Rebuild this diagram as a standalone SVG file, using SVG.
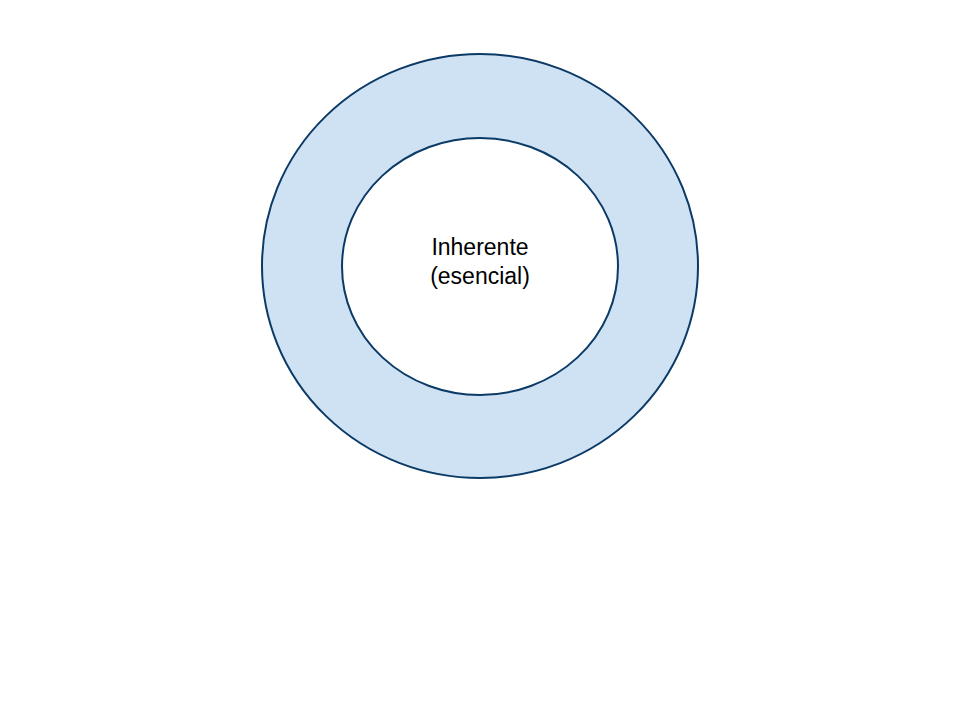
<svg xmlns="http://www.w3.org/2000/svg" width="960" height="720" viewBox="0 0 960 720">
<style>
.ring{stroke:#0B3A66;stroke-width:2}
.lbl{font-family:"Liberation Sans",Arial,sans-serif;font-size:23px;fill:#000;text-anchor:middle}
</style>
<rect width="960" height="720" fill="#fff"/>
<g id="outer">
<ellipse class="ring" cx="480" cy="266" rx="218" ry="212" fill="#CFE2F3"/>
</g>
<g id="inner">
<ellipse class="ring" cx="480" cy="266.5" rx="138" ry="128.5" fill="#fff"/>
<text class="lbl" x="480" y="255">Inherente</text>
<text class="lbl" x="480" y="284">(esencial)</text>
</g>
<g id="connectors"/>
</svg>
